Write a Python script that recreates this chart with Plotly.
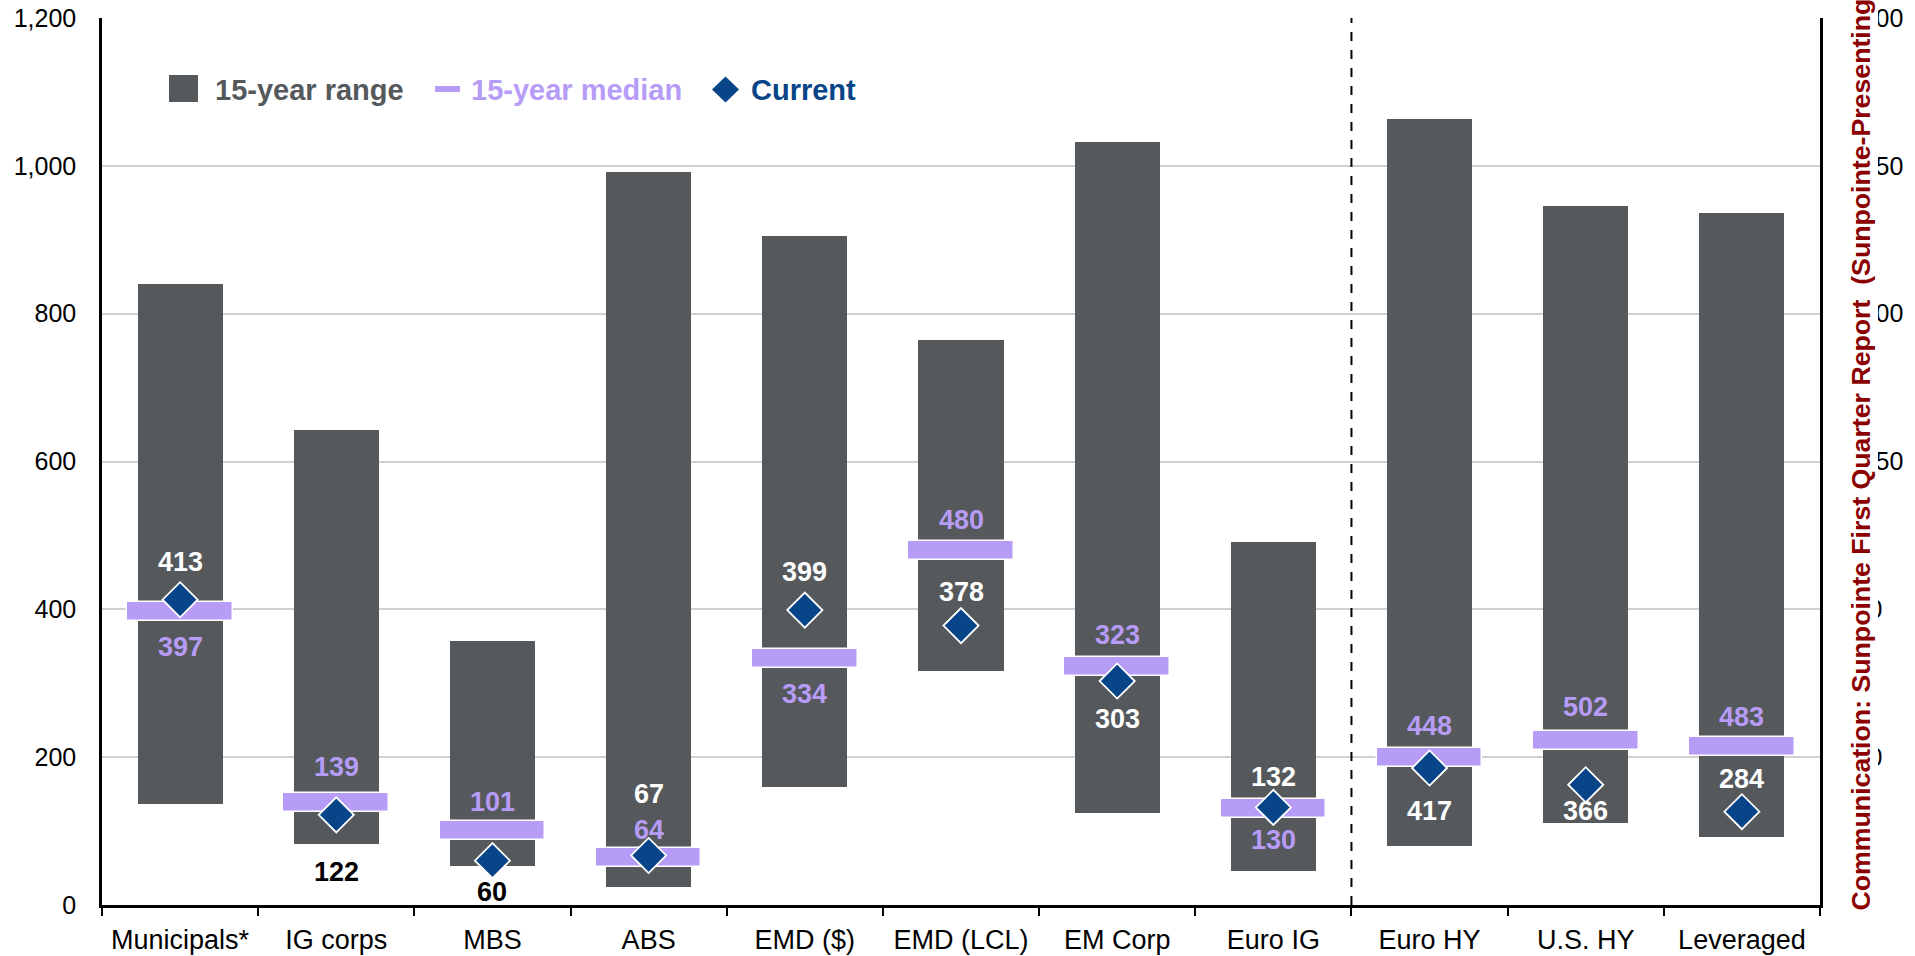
import plotly.graph_objects as go

# ---------------- data ----------------
categories = ["Municipals*", "IG corps", "MBS", "ABS", "EMD ($)", "EMD (LCL)",
              "EM Corp", "Euro IG", "Euro HY", "U.S. HY", "Leveraged"]
# left-axis sectors (first 8)
range_low_left = [137, 83, 53, 25, 159, 317, 125, 46]
range_high_left = [840, 643, 357, 992, 905, 764, 1032, 491]
median_left = [397, 139, 101, 64, 334, 480, 323, 130]
current_left = [413, 122, 60, 67, 399, 378, 303, 132]
# right-axis sectors (high yield, last 3)
range_low_right = [180, 251, 208]
range_high_right = [2393, 2127, 2105]
median_right = [448, 502, 483]
current_right = [417, 366, 284]

left_ticks = [0, 200, 400, 600, 800, 1000, 1200]
right_ticks = [0, 450, 900, 1350, 1800, 2250, 2700]

# ---------------- style ----------------
W, H = 1915, 956
PL, PR, PT, PB = 102, 1820, 18, 905
GRAY = "#55595c"
LAV = "#b79cf7"
NAVY = "#074488"
RED = "#8b0000"
FONT = "Liberation Sans, Arial, sans-serif"

n_left = len(median_left)
xl = list(range(n_left))
xr = list(range(n_left, len(categories)))

left_max = left_ticks[-1]
right_max = right_ticks[-1]
med_px = 19
med_left_h = med_px * left_max / (PB - PT)
med_right_h = med_px * right_max / (PB - PT)

fig = go.Figure()

# 15-year range bars
fig.add_trace(go.Bar(x=xl, base=range_low_left,
                     y=[h - l for h, l in zip(range_high_left, range_low_left)],
                     width=0.545, marker=dict(color=GRAY, line=dict(width=0)),
                     yaxis="y", showlegend=False, hoverinfo="skip"))
fig.add_trace(go.Bar(x=xr, base=range_low_right,
                     y=[h - l for h, l in zip(range_high_right, range_low_right)],
                     width=0.545, marker=dict(color=GRAY, line=dict(width=0)),
                     yaxis="y2", showlegend=False, hoverinfo="skip"))

# 15-year median bars
fig.add_trace(go.Bar(x=xl, base=[m - med_left_h / 2 for m in median_left],
                     y=[med_left_h] * n_left, width=0.676,
                     marker=dict(color=LAV, line=dict(color="white", width=1.5)),
                     yaxis="y", showlegend=False, hoverinfo="skip"))
fig.add_trace(go.Bar(x=xr, base=[m - med_right_h / 2 for m in median_right],
                     y=[med_right_h] * len(xr), width=0.676,
                     marker=dict(color=LAV, line=dict(color="white", width=1.5)),
                     yaxis="y2", showlegend=False, hoverinfo="skip"))

# current diamonds
fig.add_trace(go.Scatter(x=xl, y=current_left, mode="markers", yaxis="y",
                         marker=dict(symbol="diamond", size=27, color=NAVY,
                                     line=dict(color="white", width=1.8)),
                         showlegend=False, hoverinfo="skip"))
fig.add_trace(go.Scatter(x=xr, y=current_right, mode="markers", yaxis="y2",
                         marker=dict(symbol="diamond", size=27, color=NAVY,
                                     line=dict(color="white", width=1.8)),
                         showlegend=False, hoverinfo="skip"))

# ---------------- data labels ----------------
cur_shift = [38, -57, -31, 61, 38, 34, -38, 30, -43, -26, 33]
med_shift = [-35, 35, 28, 28, -36, 30, 31, -31, 32, 33, 29]
cur_col = ["white", "black", "black", "white", "white", "white", "white", "white",
           "white", "white", "white"]

annotations = []
all_cur = current_left + current_right
all_med = median_left + median_right
for i in range(len(categories)):
    yref = "y" if i < n_left else "y2"
    annotations.append(dict(x=i, y=all_med[i], xref="x", yref=yref, text=f"<b>{all_med[i]}</b>",
                            showarrow=False, yshift=med_shift[i],
                            font=dict(family=FONT, size=27, color=LAV)))
    annotations.append(dict(x=i, y=all_cur[i], xref="x", yref=yref, text=f"<b>{all_cur[i]}</b>",
                            showarrow=False, yshift=cur_shift[i],
                            font=dict(family=FONT, size=27, color=cur_col[i])))


def px_x(p):
    return (p - PL) / (PR - PL)


def px_y(p):
    return (PB - p) / (PB - PT)


# ---------------- manual legend ----------------
shapes = []
shapes.append(dict(type="rect", xref="paper", yref="paper",
                   x0=px_x(169), x1=px_x(198), y0=px_y(102), y1=px_y(75),
                   fillcolor=GRAY, line=dict(width=0)))
shapes.append(dict(type="rect", xref="paper", yref="paper",
                   x0=px_x(435), x1=px_x(460), y0=px_y(92), y1=px_y(86),
                   fillcolor=LAV, line=dict(width=0)))
cx, cy, hw, hh = 725.5, 89.5, 13.5, 13
shapes.append(dict(type="path", xref="paper", yref="paper",
                   path=(f"M {px_x(cx - hw)} {px_y(cy)} L {px_x(cx)} {px_y(cy - hh)} "
                         f"L {px_x(cx + hw)} {px_y(cy)} L {px_x(cx)} {px_y(cy + hh)} Z"),
                   fillcolor=NAVY, line=dict(width=0)))
legend_items = [("15-year range", 213, GRAY), ("15-year median", 469, LAV), ("Current", 749, NAVY)]
for txt, lx, col in legend_items:
    annotations.append(dict(x=px_x(lx), y=px_y(90), xref="paper", yref="paper",
                            xanchor="left", yanchor="middle", showarrow=False,
                            text=f"<b>{txt}</b>", font=dict(family=FONT, size=29, color=col)))

# divider between IG/EM and high-yield sectors
shapes.append(dict(type="line", xref="x", yref="paper", x0=n_left - 0.5, x1=n_left - 0.5,
                   y0=0, y1=1, line=dict(color="black", width=2, dash="dash"), layer="above"))

# white strip behind the right-axis title (it hides the start of the tick labels)
shapes.append(dict(type="rect", xref="paper", yref="paper",
                   x0=px_x(1834), x1=px_x(1878), y0=px_y(940), y1=px_y(-10),
                   fillcolor="white", line=dict(width=0), layer="above"))

# right-axis title
annotations.append(dict(x=px_x(1860), y=px_y(912), xref="paper", yref="paper",
                        xanchor="center", yanchor="bottom", textangle=-90, showarrow=False,
                        borderpad=0,
                        text="<b>Communication: Sunpointe First Quarter Report\u00a0 (Sunpointe-Presenting)</b>",
                        font=dict(family=FONT, size=26.7, color=RED)))

fig.update_layout(
    width=W, height=H,
    margin=dict(l=PL, r=W - PR, t=PT, b=H - PB, pad=0, autoexpand=False),
    paper_bgcolor="white", plot_bgcolor="white",
    barmode="overlay", bargap=0,
    showlegend=False,
    font=dict(family=FONT, size=25, color="black"),
    xaxis=dict(range=[-0.5, len(categories) - 0.5], tickmode="array",
               tickvals=list(range(len(categories))), ticktext=categories,
               ticks="", showgrid=False, zeroline=False, automargin=False,
               ticklabelstandoff=9,
               showline=True, linecolor="black", linewidth=2.5,
               tickfont=dict(family=FONT, size=27, color="black"),
               minor=dict(tickmode="array",
                          tickvals=[i - 0.5 for i in range(len(categories) + 1)],
                          ticks="outside", ticklen=8, tickwidth=2, tickcolor="black",
                          showgrid=False)),
    yaxis=dict(range=[0, left_max], tickmode="array", tickvals=left_ticks,
               tickformat=",d", ticks="", ticklabelstandoff=18, automargin=False,
               showgrid=True, gridcolor="#d0d0d0", gridwidth=1.5, zeroline=False,
               showline=True, linecolor="black", linewidth=2.5,
               tickfont=dict(family=FONT, size=25, color="black")),
    yaxis2=dict(range=[0, right_max], tickmode="array", tickvals=right_ticks,
                tickformat=",d", ticks="", ticklabelstandoff=13, automargin=False,
                overlaying="y", side="right", showgrid=False, zeroline=False,
                showline=True, linecolor="black", linewidth=2.5,
                tickfont=dict(family=FONT, size=25, color="black")),
    shapes=shapes,
    annotations=annotations,
)

fig.write_html("out.html", config={"displayModeBar": False},
               post_script="document.body.style.margin='0px';")
